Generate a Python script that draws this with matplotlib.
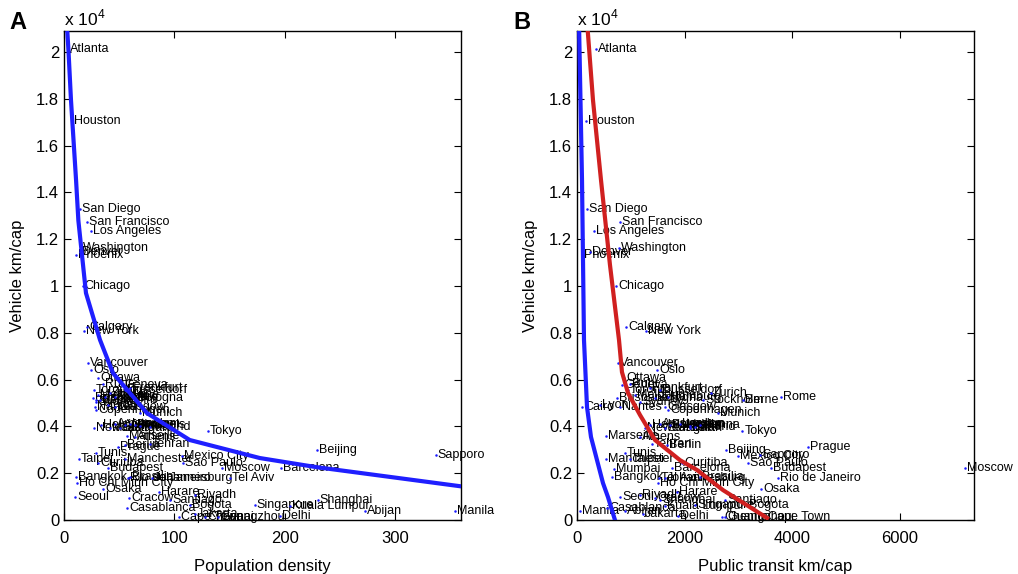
import numpy as np
import matplotlib
matplotlib.use("Agg")
import matplotlib.pyplot as plt
from matplotlib.ticker import FuncFormatter, MultipleLocator

plt.rcParams["font.family"] = ["Liberation Sans", "DejaVu Sans"]
plt.rcParams["mathtext.fontset"] = "custom"
plt.rcParams["mathtext.rm"] = "Liberation Sans"

# city name, population density, public transit km/cap, vehicle km/cap
cities = ["Atlanta", "Houston", "San Diego", "San Francisco", "Los Angeles", "Washington",
          "Denver", "Phoenix", "Chicago", "Calgary", "New York", "Vancouver", "Oslo", "Ottawa",
          "Geneva", "Ruhr", "Frankfurt", "Dusseldorf", "Toronto", "Zurich", "Hamburg", "Bologna",
          "Stockholm", "Berne", "Rome", "Brisbane", "Cairo", "Lyon", "Nantes", "Glasgow",
          "Copenhagen", "Munich", "Sydney", "Melbourne", "Helsinki", "Newcastle", "Amsterdam",
          "Brussels", "London", "Madrid", "Vienna", "Paris", "Stuttgart", "Tokyo", "Milan",
          "Marseille", "Athens", "Tehran", "Berlin", "Prague", "Beijing", "Sapporo", "Mexico City",
          "Tunis", "Manchester", "Taipei", "Curitiba", "Sao Paulo", "Budapest", "Moscow",
          "Barcelona", "Mumbai", "Johannesburg", "Rio de Janeiro", "Tel Aviv", "Bangkok",
          "Brasilia", "Ho Chi Minh City", "Osaka", "Seoul", "Harare", "Riyadh", "Santiago",
          "Cracow", "Bogota", "Casablanca", "Singapore", "Kuala Lumpur", "Shanghai", "Manila",
          "Abijan", "Jakarta", "Delhi", "Chennai", "Guangzhou", "Cape Town"]

density = [3.6, 7.2, 14.5, 20.8, 24.5, 15.4,
           14.5, 10.9, 17.0, 20.8, 18.1, 21.7, 24.5, 30.8,
           52.5, 35.3, 59.8, 55.3, 27.2, 41.7, 37.2, 64.2,
           29.0, 32.6, 46.2, 26.3, np.nan, 39.9, 28.1, 46.2,
           29.0, 68.8, 29.0, 30.8, 33.5, 27.2, 46.2,
           64.2, 59.8, 77.9, 55.3, 68.8, 50.7, 130.4, 41.7,
           57.1, 64.2, 77.9, 55.3, 48.9, 229.2, 337.0, 106.9,
           29.0, 55.3, 13.6, 30.8, 107.8, 39.9, 143.0,
           196.5, np.nan, 79.7, 58.0, 150.4, 10.9,
           59.8, 11.8, 35.3, 10.0, 86.1, 118.7, 96.0,
           58.9, 114.0, 57.1, 173.0, 204.7, 230.1, 354.2,
           272.6, 118.7, 195.6, 127.7, 140.0, 104.0]

transit = [353, 167, 186, 799, 316, 781,
           242, 93, 725, 911, 1283, 762, 1487, 874,
           836, 985, 1357, 1543, 948, 2491, 1687, 1450,
           2342, 3086, 3792, 743, 93, 427, 799, 1636,
           1696, 2621, 1171, 1078, 1357, 1264, 1543,
           1729, 1914, 2193, 2286, 2100, 1636, 3072, 2100,
           539, 1171, 1394, 1673, 4294, 2770, 3401, 2993,
           892, 539, 985, 1952, 3183, 3606, 7212,
           1766, 688, 1636, 3730, 1524, 650,
           2286, 1506, 3420, 799, 1859, 1171, 2751,
           1450, 3160, 558, 2193, 1636, 1543, 56,
           892, 1227, 1877, 2695, 2751, 3513]

vehicle_km = [20130, 17050, 13290, 12740, 12350, 11620,
              11450, 11320, 10000, 8250, 8080, 6710, 6410, 6070,
              5770, 5810, 5640, 5560, 5560, 5430, 5260, 5210,
              5130, 5130, 5260, 5210, 4830, 4910, 4830, 4830,
              4700, 4570, 5040, 5340, 4060, 3930, 4100,
              4060, 4100, 3970, 4060, 4020, 3930, 3800, 3930,
              3590, 3550, 3250, 3210, 3120, 2990, 2780, 2740,
              2860, 2610, 2610, 2440, 2440, 2220, 2220,
              2220, 2180, 1790, 1790, 1790, 1840,
              1840, 1580, 1320, 980, 1200, 1070, 850,
              940, 640, 510, 640, 600, 850, 380,
              380, 260, 170, 130, 130, 130]

# fitted curves
fit_density_x = [2.2, 4.1, 6.3, 10.9, 13.0, 19.9, 32.6, 44.4, 75.2, 114, 177.5, 229, 360]
fit_density_y = [21500, 20000, 17950, 14530, 12800, 9700, 7700, 6280, 4570, 3420, 2650, 2260, 1440]

fit_transit_x = [35, 93, 130, 186, 260, 372, 483, 576, 706]
fit_transit_y = [21500, 14530, 7690, 4830, 3550, 2560, 1580, 980, 0]

fit_transit2_x = [180, 297, 446, 613, 781, 836, 948, 1171, 1450, 1914, 2230, 2714, 3532]
fit_transit2_y = [21500, 17950, 14530, 10900, 7690, 6320, 5430, 4490, 3420, 2560, 2140, 1280, 90]

SCALE = 1e4
vk = np.array(vehicle_km) / SCALE

fig = plt.figure(figsize=(10.18, 5.74), dpi=100)
axA = fig.add_axes([0.0629, 0.094, 0.390, 0.852])
axB = fig.add_axes([0.5668, 0.094, 0.390, 0.852])


def draw_panel(ax, xs, fits, xlim, xticks, xlabel, letter, letter_x):
    xs = np.array(xs, dtype=float)
    for fx, fy, col in fits:
        ax.plot(fx, np.array(fy) / SCALE, color=col, lw=3.0, zorder=5, solid_joinstyle="miter")
    ok = ~np.isnan(xs)
    ax.plot(xs[ok], vk[ok], ls="none", marker="o", ms=1.8, mec="none", mfc="#1a1aff", zorder=4)
    for name, x, y in zip(cities, xs, vk):
        if np.isnan(x):
            continue
        ax.annotate(name, (x, y), xytext=(1.5, 0), textcoords="offset points",
                    ha="left", va="center", fontsize=9, zorder=3, annotation_clip=False)
    ax.set_xlim(*xlim)
    ax.set_ylim(0, 2.09)
    ax.set_xticks(xticks)
    ax.yaxis.set_major_locator(MultipleLocator(0.2))
    ax.yaxis.set_major_formatter(FuncFormatter(lambda v, p: "%g" % round(v, 1)))
    ax.tick_params(direction="in", top=True, right=True, length=5, width=0.8, labelsize=12)
    ax.tick_params(axis="x", pad=8)
    for s in ax.spines.values():
        s.set_linewidth(1.0)
    ax.set_xlabel(xlabel, fontsize=12, labelpad=9)
    ax.set_ylabel("Vehicle km/cap", fontsize=12, labelpad=8)
    ax.text(0.0, 1.006, r"x 10$^{4}$", transform=ax.transAxes, ha="left", va="bottom", fontsize=12.5)
    fig.text(letter_x, 0.961, letter, fontsize=17, fontweight="bold", ha="left", va="center")


draw_panel(axA, density, [(fit_density_x, fit_density_y, "#1f1fff")],
           (0, 360), [0, 100, 200, 300], "Population density", "A", 0.009)
draw_panel(axB, transit, [(fit_transit_x, fit_transit_y, "#1f1fff"),
                          (fit_transit2_x, fit_transit2_y, "#d02020")],
           (0, 7380), [0, 2000, 4000, 6000], "Public transit km/cap", "B", 0.504)

fig.savefig("out.png", dpi=100, facecolor="white")
